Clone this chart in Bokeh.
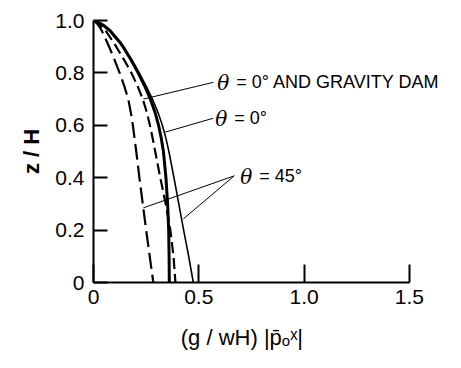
from bokeh.plotting import figure
from bokeh.embed import file_html
from bokeh.resources import INLINE
from bokeh.models import FixedTicker, LabelSet, ColumnDataSource
from bokeh.core.properties import value

# depth ratio z/H
z = [1.0, 0.99, 0.98, 0.96, 0.94, 0.92, 0.90, 0.85, 0.80, 0.75, 0.70, 0.65,
     0.60, 0.55, 0.50, 0.40, 0.30, 0.20, 0.10, 0.0]
# normalised pressure
long_dashed = [0.0, 0.015, 0.025, 0.040, 0.052, 0.063, 0.074, 0.100, 0.124, 0.146,
               0.165, 0.177, 0.187, 0.195, 0.203, 0.218, 0.234, 0.250, 0.267, 0.284]
medium_dashed = [0.0, 0.020, 0.035, 0.058, 0.075, 0.092, 0.108, 0.145, 0.180, 0.209,
                 0.234, 0.253, 0.268, 0.281, 0.293, 0.317, 0.343, 0.365, 0.380, 0.389]
thick_solid = [0.0, 0.030, 0.050, 0.080, 0.100, 0.122, 0.140, 0.178, 0.212, 0.243,
               0.270, 0.292, 0.309, 0.322, 0.332, 0.344, 0.352, 0.357, 0.359, 0.360]
thin_solid = [0.0, 0.030, 0.050, 0.082, 0.104, 0.125, 0.143, 0.182, 0.217, 0.250,
              0.280, 0.306, 0.327, 0.344, 0.358, 0.382, 0.405, 0.428, 0.452, 0.474]

x_ticks = [0, 0.5, 1.0, 1.5]
x_tick_labels = ["0", "0.5", "1.0", "1.5"]
y_ticks = [0, 0.2, 0.4, 0.6, 0.8, 1.0]
y_tick_labels = ["0", "0.2", "0.4", "0.6", "0.8", "1.0"]

label_theta = ["θ", "θ", "θ"]
label_rest = ["= 0° AND GRAVITY DAM", "= 0°", "= 45°"]
label_x = [0.588, 0.578, 0.697]
label_z = [0.760, 0.624, 0.403]
# leader lines: (start at label) -> (end on curve)
lead_x0 = [0.569, 0.569, 0.668, 0.668]
lead_z0 = [0.764, 0.627, 0.407, 0.407]
lead_x1 = [0.237, 0.341, 0.237, 0.427]
lead_z1 = [0.700, 0.574, 0.285, 0.243]

# frame extends past 1.5 so the long label is not clipped; the axis stops at 1.5
p = figure(width=458, height=352, x_range=(0, 1.7), y_range=(0, 1.0),
           output_backend="svg", toolbar_location=None,
           min_border_left=93, min_border_right=7, min_border_top=20, min_border_bottom=69)
p.outline_line_color = None
p.xgrid.visible = False
p.ygrid.visible = False

p.line(long_dashed, z, line_color="black", line_width=2.2, line_dash="16 6")
p.line(medium_dashed, z, line_color="black", line_width=2.2, line_dash="11 5")
p.line(thick_solid, z, line_color="black", line_width=3)
p.line(thin_solid, z, line_color="black", line_width=1.6)

p.segment(lead_x0, lead_z0, lead_x1, lead_z1, line_color="black", line_width=1)

src = ColumnDataSource(dict(x=label_x, y=label_z, theta=label_theta, rest=label_rest))
p.add_layout(LabelSet(x="x", y="y", text="theta", source=src,
                      text_font=value("DejaVu Serif"), text_font_style="italic",
                      text_font_size="20px", text_baseline="middle",
                      text_align="left", text_color="black"))
p.add_layout(LabelSet(x="x", y="y", text="rest", source=src, x_offset=19, y_offset=1,
                      text_font=value("Liberation Sans"), text_font_size="18px",
                      text_baseline="middle", text_align="left", text_color="black"))

for ax in (p.xaxis[0], p.yaxis[0]):
    ax.axis_line_width = 2
    ax.axis_line_color = "black"
    ax.major_tick_line_width = 2
    ax.major_tick_line_color = "black"
    ax.major_tick_out = 0
    ax.minor_tick_line_color = None
    ax.major_label_text_font = "Liberation Sans"
    ax.major_label_text_font_size = "21px"
    ax.major_label_text_color = "black"
    ax.axis_label_text_font = "Liberation Sans"
    ax.axis_label_text_font_style = "normal"
    ax.axis_label_text_color = "black"
    ax.axis_label_text_font_size = "22px"

p.xaxis.bounds = (0, 1.5)
p.xaxis.ticker = FixedTicker(ticks=x_ticks)
p.xaxis.major_label_overrides = {t: l for t, l in zip(x_ticks, x_tick_labels)}
p.yaxis.ticker = FixedTicker(ticks=y_ticks)
p.yaxis.major_label_overrides = {t: l for t, l in zip(y_ticks, y_tick_labels)}
p.xaxis.major_tick_in = 18
p.yaxis.major_tick_in = 14
p.xaxis.major_label_standoff = 7
p.yaxis.major_label_standoff = 9
# trailing no-break spaces shift the centred label left, under the axis' own span
p.xaxis.axis_label = "(g / wH) |p̄ₒˣ|" + "\u00a0" * 10
p.xaxis.axis_label_standoff = 18
p.yaxis.axis_label = "z / H"
p.yaxis.axis_label_text_font_style = "bold"
p.yaxis.axis_label_text_font_size = "22px"
p.yaxis.axis_label_standoff = 8

open("out.html", "w").write(file_html(p, INLINE))
